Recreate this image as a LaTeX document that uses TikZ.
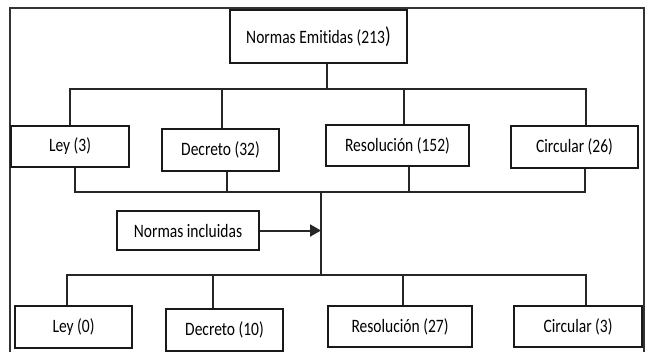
\documentclass[tikz,border=0pt]{standalone}
\usepackage{fontspec}
\setmainfont{Carlito}[FakeStretch=0.82,Ligatures=NoCommon]
\usetikzlibrary{arrows.meta}
\begin{document}
\begin{tikzpicture}[x=1bp,y=-1bp,
  box/.style={draw=black!90,line width=2bp,minimum width=#1,inner sep=0pt,
    font=\fontsize{19}{22}\selectfont,anchor=center},
  conn/.style={draw=black!85,line width=2bp},
  frame/.style={draw=black!80,line width=1.3bp}]
\useasboundingbox (0,0) rectangle (649,352);
\draw[frame] (10,352) -- (10,8) -- (644,8) -- (644,352);
% boxes
\node[box=177bp,minimum height=53bp] (top) at (318.5,36.5) {Normas Emitidas (213\raisebox{0.5bp}{\fontsize{23}{22}\selectfont)}};
\node[box=117bp,minimum height=41bp] (ley3) at (70,146.5) {Ley (3)};
\node[box=117bp,minimum height=42bp] (dec32) at (220.5,150) {Decreto (32)};
\node[box=143bp,minimum height=41bp] (res152) at (397.5,145.5) {Resolución (152)};
\node[box=127bp,minimum height=42bp] (cir26) at (574.5,147) {Circular (26)};
\node[box=142bp,minimum height=39bp] (incl) at (188,230.5) {Normas incluidas};
\node[box=117bp,minimum height=42bp] (ley0) at (73.5,327) {Ley (0)};
\node[box=117bp,minimum height=42bp] (dec10) at (224.5,330) {Decreto (10)};
\node[box=144bp,minimum height=41bp] (res27) at (400,326.5) {Resolución (27)};
\node[box=128bp,minimum height=41bp] (cir3) at (578,326.5) {Circular (3)};
% bus coordinates
\coordinate (bT) at (327,89);
\coordinate (bM) at (321,192);
\coordinate (bL) at (321,275);
\coordinate (xL1) at (70,0);
\coordinate (xD1) at (222,0);
\coordinate (xR1) at (404,0);
\coordinate (xC1) at (586,0);
\coordinate (xL2) at (75,0);
\coordinate (xD2) at (227,0);
\coordinate (xR2) at (409,0);
\coordinate (xC2) at (585,0);
\coordinate (xL3) at (67,0);
\coordinate (xD3) at (213,0);
\coordinate (xR3) at (403,0);
\coordinate (xC3) at (586,0);
% top bus
\draw[conn] (top.south -| bT) -- (bT);
\draw[conn] (ley3.north -| xL1) -- (bT -| xL1) -- (bT -| xC1) -- (cir26.north -| xC1);
\draw[conn] (dec32.north -| xD1) -- (bT -| xD1);
\draw[conn] (res152.north -| xR1) -- (bT -| xR1);
% middle bus
\draw[conn] (ley3.south -| xL2) -- (bM -| xL2) -- (bM -| xC2) -- (cir26.south -| xC2);
\draw[conn] (dec32.south -| xD2) -- (bM -| xD2);
\draw[conn] (res152.south -| xR2) -- (bM -| xR2);
\draw[conn] (bM) -- (bL);
% arrow
\draw[conn,-{Triangle[length=11bp,width=12bp]}] (incl.east) -- (incl.east -| bM);
% lower bus
\draw[conn] (ley0.north -| xL3) -- (bL -| xL3) -- (bL -| xC3) -- (cir3.north -| xC3);
\draw[conn] (dec10.north -| xD3) -- (bL -| xD3);
\draw[conn] (res27.north -| xR3) -- (bL -| xR3);
\end{tikzpicture}
\end{document}
